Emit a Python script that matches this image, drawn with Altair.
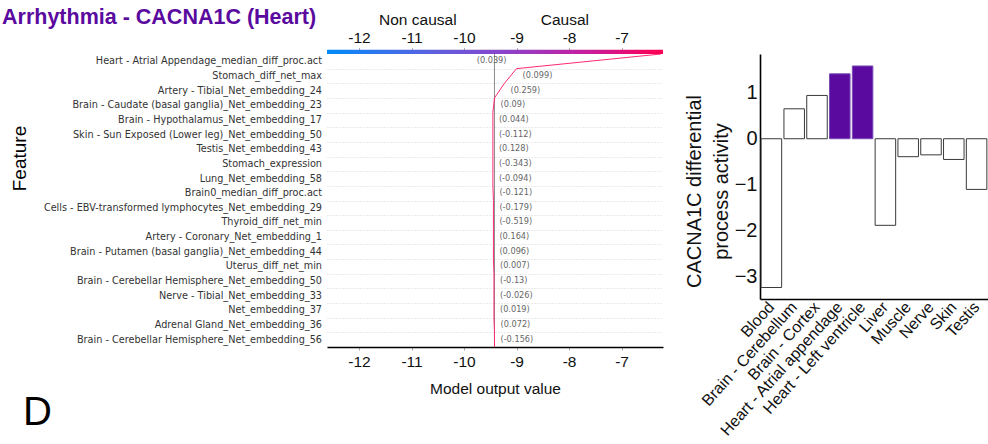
import altair as alt
import pandas as pd

TITLE = "Arrhythmia - CACNA1C (Heart)"
PURPLE = "#5a0a9e"

# Decision plot: features from top row to bottom row, with their feature values
features = [
    "Heart - Atrial Appendage_median_diff_proc.act",
    "Stomach_diff_net_max",
    "Artery - Tibial_Net_embedding_24",
    "Brain - Caudate (basal ganglia)_Net_embedding_23",
    "Brain - Hypothalamus_Net_embedding_17",
    "Skin - Sun Exposed (Lower leg)_Net_embedding_50",
    "Testis_Net_embedding_43",
    "Stomach_expression",
    "Lung_Net_embedding_58",
    "Brain0_median_diff_proc.act",
    "Cells - EBV-transformed lymphocytes_Net_embedding_29",
    "Thyroid_diff_net_min",
    "Artery - Coronary_Net_embedding_1",
    "Brain - Putamen (basal ganglia)_Net_embedding_44",
    "Uterus_diff_net_min",
    "Brain - Cerebellar Hemisphere_Net_embedding_50",
    "Nerve - Tibial_Net_embedding_33",
    "Net_embedding_37",
    "Adrenal Gland_Net_embedding_36",
    "Brain - Cerebellar Hemisphere_Net_embedding_56",
]
feature_values = [
    "0.039", "0.099", "0.259", "0.09", "0.044", "-0.112", "0.128", "-0.343",
    "-0.094", "-0.121", "-0.179", "-0.519", "0.164", "0.096", "0.007", "-0.13",
    "-0.026", "0.019", "0.072", "-0.156",
]
# Model output at each row boundary, from the top edge down to the base value
output_path = [
    -6.25, -9.00, -9.23, -9.42, -9.45, -9.45, -9.45, -9.45, -9.45, -9.45, -9.44,
    -9.44, -9.44, -9.44, -9.44, -9.43, -9.43, -9.43, -9.43, -9.42, -9.42,
]
base_value = -9.42
x_limits = [-12.61, -6.21]
x_ticks = [-12, -11, -10, -9, -8, -7]
direction_labels = ["Non causal", "Causal"]
direction_x = [-10.88, -8.08]

# Bar chart: differential process activity per tissue
tissues = [
    "Blood", "Brain - Cerebellum", "Brain - Cortex", "Heart - Atrial appendage",
    "Heart - Left ventricle", "Liver", "Muscle", "Nerve", "Skin", "Testis",
]
activity = [-3.23, 0.65, 0.94, 1.41, 1.58, -1.88, -0.39, -0.35, -0.45, -1.10]
activity_ticks = [-3, -2, -1, 0, 1]

n = len(features)
rows = []
for i, (name, val) in enumerate(zip(features, feature_values)):
    hi, lo = output_path[i], output_path[i + 1]
    right_side = max(hi, lo) > -7.5
    rows.append({
        "feature": name,
        "label": f"({val})",
        "row": n - i - 0.5,
        "anchor": min(hi, lo) if right_side else max(hi, lo),
        "right_side": right_side,
    })
rows_df = pd.DataFrame(rows)
path_df = pd.DataFrame({"level": [n - k for k in range(n + 1)], "output": output_path})

x_scale = alt.Scale(domain=x_limits, nice=False, zero=False)
y_scale = alt.Scale(domain=[0, n], nice=False, zero=False)
SANS = "Liberation Sans"
LABEL_FONT = "DejaVu Sans"

line = alt.Chart(path_df).mark_line(color="#ff2a72", strokeWidth=1).encode(
    x=alt.X("output:Q", scale=x_scale, axis=alt.Axis(
        orient="bottom", values=x_ticks, labelExpr="'' + datum.value",
        title="Model output value", titleFont=SANS, titleFontSize=15.5,
        titleFontWeight="normal", titleColor="#111", titlePadding=12,
        labelFont=SANS, labelFontSize=15.5, labelColor="#111", labelPadding=4,
        tickColor="#aaa", tickSize=3, domainColor="#000", domainWidth=1.6, grid=False)),
    y=alt.Y("level:Q", scale=y_scale, axis=alt.Axis(
        values=list(range(n)), labels=False, ticks=False, domain=False,
        grid=True, gridDash=[1, 2], gridColor="#c4c4c4", gridWidth=0.7,
        title="Feature", titleX=-308, titleY=104, titleAngle=-90,
        titleAlign="center", titleBaseline="middle", titleFont=SANS,
        titleFontSize=19, titleFontWeight="normal", titleColor="#000")),
    order=alt.Order("level:Q"),
)

base_rule = alt.Chart(pd.DataFrame({"base": [base_value], "y0": [0], "y1": [n]})).mark_rule(
    color="#8c8c8c", strokeWidth=1
).encode(
    x=alt.X("base:Q", scale=x_scale, axis=None),
    y=alt.Y("y0:Q", scale=y_scale, axis=None),
    y2="y1:Q",
)

gradient = alt.LinearGradient(
    gradient="linear",
    stops=[
        alt.GradientStop(color="#008bfb", offset=0),
        alt.GradientStop(color="#5a62e0", offset=0.3),
        alt.GradientStop(color="#9040c8", offset=0.55),
        alt.GradientStop(color="#c81c9c", offset=0.78),
        alt.GradientStop(color="#ff0051", offset=1),
    ],
    x1=0, x2=1, y1=0, y2=0,
)
colorbar = alt.Chart(pd.DataFrame({"x0": [x_limits[0]], "x1": [x_limits[1]]})).mark_rect(
    color=gradient
).encode(
    x=alt.X("x0:Q", scale=x_scale, axis=alt.Axis(
        orient="top", values=x_ticks, labelExpr="'' + datum.value", title=None,
        offset=4.5, domain=False, tickColor="#aaa", tickSize=2, labelPadding=2,
        labelFont=SANS, labelFontSize=15.5, labelColor="#111", grid=False)),
    x2="x1:Q",
    y=alt.value(-4.3),
    y2=alt.value(0),
)

feature_text = alt.Chart(rows_df).mark_text(
    align="right", baseline="middle", font=LABEL_FONT, fontSize=9.7, color="#333"
).encode(
    x=alt.value(-5),
    y=alt.Y("row:Q", scale=y_scale, axis=None),
    text="feature:N",
)

value_left = alt.Chart(rows_df).transform_filter("!datum.right_side").mark_text(
    align="left", baseline="middle", dx=6, font=LABEL_FONT, fontSize=8.2, color="#666"
).encode(
    x=alt.X("anchor:Q", scale=x_scale, axis=None),
    y=alt.Y("row:Q", scale=y_scale, axis=None),
    text="label:N",
)
value_right = alt.Chart(rows_df).transform_filter("datum.right_side").mark_text(
    align="right", baseline="middle", dx=-10, font=LABEL_FONT, fontSize=8.2, color="#666"
).encode(
    x=alt.X("anchor:Q", scale=x_scale, axis=None),
    y=alt.Y("row:Q", scale=y_scale, axis=None),
    text="label:N",
)

direction = alt.Chart(pd.DataFrame({"text": direction_labels, "x": direction_x})).mark_text(
    align="center", baseline="alphabetic", font=SANS, fontSize=15.5, color="#111"
).encode(
    x=alt.X("x:Q", scale=x_scale, axis=None),
    y=alt.value(-29),
    text="text:N",
)

title_text = alt.Chart(pd.DataFrame({"t": [TITLE]})).mark_text(
    align="left", baseline="alphabetic", font=SANS, fontSize=21.5, fontWeight="bold", color=PURPLE
).encode(x=alt.value(-325), y=alt.value(-30), text="t:N")

panel_letter = alt.Chart(pd.DataFrame({"t": ["D"]})).mark_text(
    align="left", baseline="alphabetic", font=SANS, fontSize=40, color="#000"
).encode(x=alt.value(-304), y=alt.value(371), text="t:N")

left = alt.layer(
    base_rule, line, colorbar, feature_text, value_left, value_right,
    direction, title_text, panel_letter,
).resolve_axis(x="independent", y="independent").properties(width=336, height=293)

heart = "indexof(datum.tissue, 'Heart') === 0"
right = alt.Chart(pd.DataFrame({"tissue": tissues, "activity": activity})).mark_bar(
    strokeWidth=1
).encode(
    x=alt.X("tissue:N", sort=tissues,
            scale=alt.Scale(paddingInner=0.1, paddingOuter=0.05),
            axis=alt.Axis(title=None, labelAngle=-48, labelAlign="right",
                          labelBaseline="middle", labelFont=SANS, labelFontSize=16,
                          labelColor="#111", labelPadding=5, labelLimit=300,
                          ticks=False, domainColor="#000", domainWidth=1.6)),
    y=alt.Y("activity:Q", scale=alt.Scale(domain=[-3.48, 1.84], nice=False),
            axis=alt.Axis(values=activity_ticks, grid=False, ticks=False,
                          labelFont=SANS, labelFontSize=20, labelColor="#111",
                          labelPadding=3, domainColor="#000", domainWidth=1.6,
                          title=["CACNA1C differential", "process activity"],
                          titleFont=SANS, titleFontSize=20, titleFontWeight="normal",
                          titleColor="#111", titleAngle=-90, titleAlign="center",
                          titleBaseline="middle", titleLineHeight=27,
                          titleX=-66, titleY=137)),
    fill=alt.condition(heart, alt.value(PURPLE), alt.value("white")),
    stroke=alt.condition(heart, alt.value("#7a4db8"), alt.value("#3a3a3a")),
).properties(width=228, height=245)

chart = alt.hconcat(left, right, spacing=97, bounds="flush").properties(
    padding={"left": 2, "top": 7, "right": 0, "bottom": 0}
).configure_view(stroke=None)

chart.save("out.html", embed_options={"renderer": "svg", "actions": False})
